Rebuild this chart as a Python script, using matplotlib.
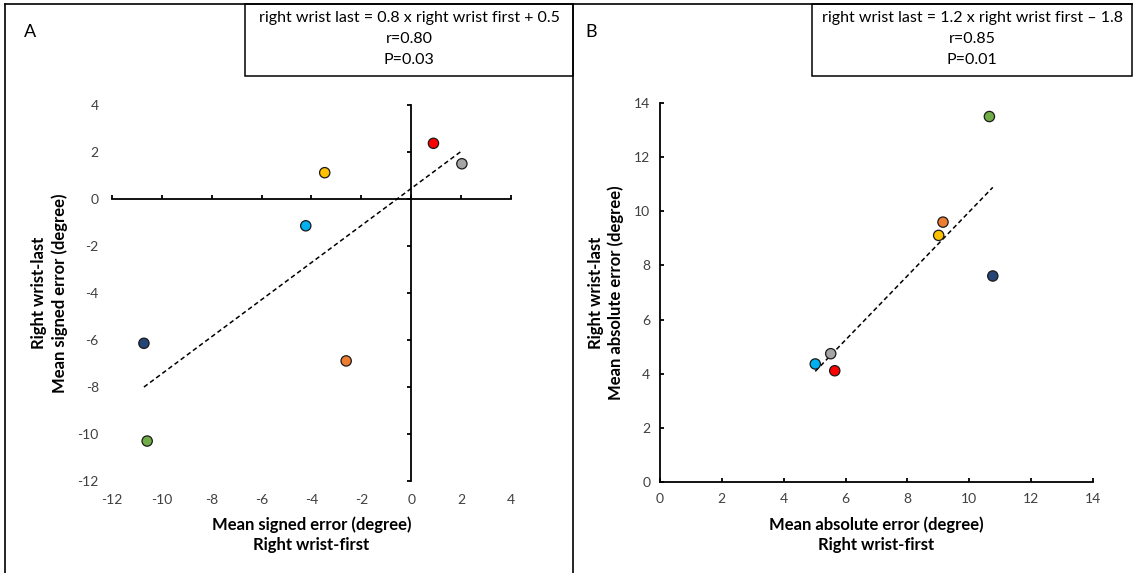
import matplotlib.pyplot as plt
from matplotlib.lines import Line2D
from matplotlib.patches import Rectangle
import numpy as np

plt.rcParams['font.family'] = ['Lato', 'DejaVu Sans']
plt.rcParams['axes.unicode_minus'] = False

# one colour per participant (same order in both panels)
colors = ['#FF0000', '#A5A5A5', '#FFC000', '#00B0F0', '#264478', '#ED7D31', '#70AD47']

# panel A: mean signed error (degree)
signed_first = [0.89, 2.03, -3.47, -4.23, -10.72, -2.61, -10.59]
signed_last = [2.37, 1.50, 1.12, -1.14, -6.14, -6.89, -10.30]

# panel B: mean absolute error (degree)
absolute_first = [5.65, 5.52, 9.01, 5.02, 10.76, 9.15, 10.65]
absolute_last = [4.11, 4.74, 9.11, 4.36, 7.61, 9.60, 13.50]

signed_ticks = [-12, -10, -8, -6, -4, -2, 0, 2, 4]
absolute_ticks = [0, 2, 4, 6, 8, 10, 12, 14]

box_a = ['right wrist last = 0.8 x right wrist first + 0.5', 'r=0.80', 'P=0.03']
box_b = ['right wrist last = 1.2 x right wrist first \u2013 1.8', 'r=0.85', 'P=0.01']

W, H = 1133, 573
tick_color = '#404040'


def draw_points(ax, x, y):
    '''
    Scatter the participants and add the least squares trend line
    over the range of the data
    '''
    slope, intercept = np.polyfit(x, y, 1)
    xs = np.array([min(x), max(x)])
    ax.plot(xs, slope * xs + intercept, color='black', linestyle=(0, (3, 2)),
            linewidth=1.1, zorder=2)
    ax.scatter(x, y, s=55, c=colors, edgecolors='#1a1a1a', linewidths=0.9,
               zorder=3, clip_on=False)


def draw_box(left, right, lines):
    # framed text box hanging from the top border, in pixels
    fig.add_artist(Rectangle((left / W, 1 - 76 / H), (right - left) / W, 72 / H,
                             transform=fig.transFigure, fill=False,
                             edgecolor='black', linewidth=1.1))
    for i, line in enumerate(lines):
        fig.text((left + right) / 2 / W, 1 - (18 + 21 * i) / H, line,
                 ha='center', va='center', fontsize=11.5, color='black')


fig = plt.figure(figsize=(W / 100, H / 100), dpi=100)

# ---------------- panel A ----------------
ax_a = fig.add_axes([112 / W, 1 - 481 / H, 399 / W, 376 / H])
draw_points(ax_a, signed_first, signed_last)
ax_a.set_xlim(-12, 4)
ax_a.set_ylim(-12, 4)
ax_a.set_xticks(signed_ticks)
ax_a.set_yticks(signed_ticks)

# axes cross at zero, labels stay at the outer edges
ax_a.spines['bottom'].set_visible(False)
ax_a.spines['left'].set_visible(False)
ax_a.spines['top'].set_position(('data', 0))
ax_a.spines['right'].set_position(('data', 0))
for side in ['top', 'right']:
    ax_a.spines[side].set_linewidth(1.3)
    ax_a.spines[side].set_color('black')

ax_a.tick_params(axis='x', bottom=False, top=True, labelbottom=True, labeltop=False,
                 direction='out', length=3, width=1.3, pad=6)
ax_a.tick_params(axis='y', left=False, right=True, labelleft=True, labelright=False,
                 direction='in', length=3, width=1.3, pad=9.5)
ax_a.tick_params(labelsize=10, labelcolor=tick_color)

ax_a.set_xlabel('Mean signed error (degree)\nRight wrist-first', fontsize=12,
                fontweight='bold', linespacing=1.3, labelpad=8)
ax_a.set_ylabel('Right wrist-last\nMean signed error (degree)', fontsize=12,
                fontweight='bold', linespacing=1.3, labelpad=7)

# ---------------- panel B ----------------
ax_b = fig.add_axes([660 / W, 1 - 482 / H, 433 / W, 379 / H])
draw_points(ax_b, absolute_first, absolute_last)
ax_b.set_xlim(0, 14)
ax_b.set_ylim(0, 14)
ax_b.set_xticks(absolute_ticks)
ax_b.set_yticks(absolute_ticks)

ax_b.spines['top'].set_visible(False)
ax_b.spines['right'].set_visible(False)
for side in ['bottom', 'left']:
    ax_b.spines[side].set_linewidth(1.3)
    ax_b.spines[side].set_color('black')

ax_b.tick_params(direction='in', length=3, width=1.3, labelsize=10,
                 labelcolor=tick_color)
ax_b.tick_params(axis='x', pad=8)
ax_b.tick_params(axis='y', pad=7)

ax_b.set_xlabel('Mean absolute error (degree)\nRight wrist-first', fontsize=12,
                fontweight='bold', linespacing=1.3, labelpad=8)
ax_b.set_ylabel('Right wrist-last\nMean absolute error (degree)', fontsize=12,
                fontweight='bold', linespacing=1.3, labelpad=7)

# ---------------- frame, panel letters and statistics ----------------
border = dict(transform=fig.transFigure, color='black', linewidth=1.2)
fig.add_artist(Line2D([5 / W, 1], [1 - 4 / H, 1 - 4 / H], **border))
fig.add_artist(Line2D([5 / W, 5 / W], [0, 1 - 4 / H], **border))
fig.add_artist(Line2D([573 / W, 573 / W], [0, 1 - 4 / H], **border))

fig.text(30 / W, 1 - 32 / H, 'A', fontsize=13, ha='center', va='center')
fig.text(591 / W, 1 - 32 / H, 'B', fontsize=13, ha='center', va='center')

draw_box(245, 573, box_a)
draw_box(812, 1132, box_b)

plt.savefig('out.png', dpi=100)
